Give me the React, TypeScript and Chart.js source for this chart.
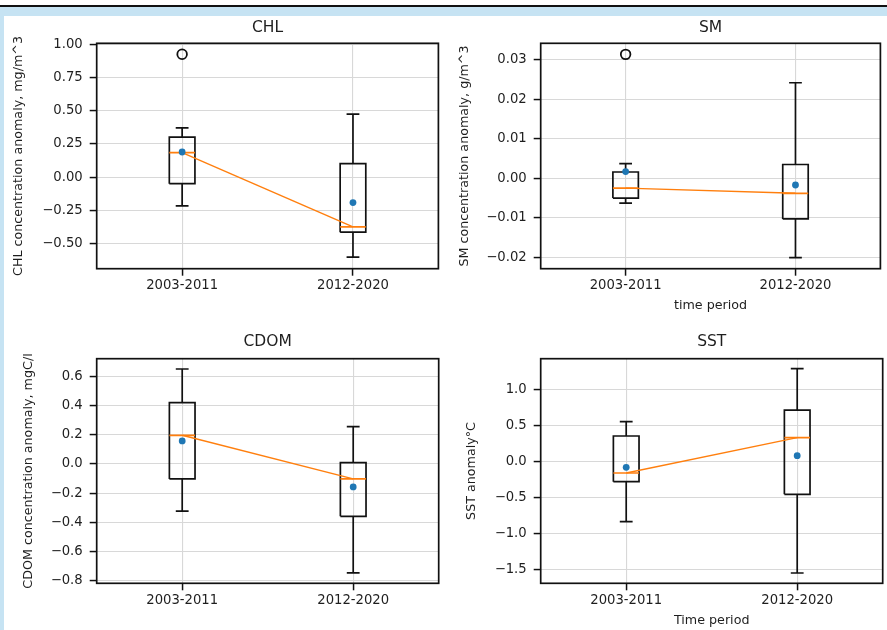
import React, { useEffect, useRef } from "react";
import { Chart, registerables } from "chart.js";

Chart.register(...registerables);

// ---------------- data ----------------
const categories = ["2003-2011", "2012-2020"];

// CHL
const chlLow = [-0.215, -0.6];
const chlQ1 = [-0.048, -0.413];
const chlMedian = [0.185, -0.373];
const chlQ3 = [0.302, 0.102];
const chlHigh = [0.372, 0.475];
const chlMean = [0.19, -0.19];
const chlOutliers = [[0.925], []];
const chlRange = [-0.6875, 1.0075];
const chlTicks = [-0.5, -0.25, 0, 0.25, 0.5, 0.75, 1.0];
const chlTickLabels = ["\u22120.50", "\u22120.25", "0.00", "0.25", "0.50", "0.75", "1.00"];

// SM
const smLow = [-0.0063, -0.0201];
const smQ1 = [-0.005, -0.0103];
const smMedian = [-0.0025, -0.0038];
const smQ3 = [0.0016, 0.0035];
const smHigh = [0.0037, 0.0242];
const smMean = [0.0017, -0.0017];
const smOutliers = [[0.0314], []];
const smRange = [-0.0229, 0.0342];
const smTicks = [-0.02, -0.01, 0, 0.01, 0.02, 0.03];
const smTickLabels = ["\u22120.02", "\u22120.01", "0.00", "0.01", "0.02", "0.03"];

// CDOM
const cdomLow = [-0.323, -0.747];
const cdomQ1 = [-0.103, -0.359];
const cdomMedian = [0.196, -0.103];
const cdomQ3 = [0.42, 0.0085];
const cdomHigh = [0.65, 0.255];
const cdomMean = [0.157, -0.158];
const cdomOutliers = [[], []];
const cdomRange = [-0.818, 0.7206];
const cdomTicks = [-0.8, -0.6, -0.4, -0.2, 0, 0.2, 0.4, 0.6];
const cdomTickLabels = ["\u22120.8", "\u22120.6", "\u22120.4", "\u22120.2", "0.0", "0.2", "0.4", "0.6"];

// SST
const sstLow = [-0.838, -1.551];
const sstQ1 = [-0.282, -0.458];
const sstMedian = [-0.162, 0.329];
const sstQ3 = [0.352, 0.713];
const sstHigh = [0.551, 1.287];
const sstMean = [-0.083, 0.079];
const sstOutliers = [[], []];
const sstRange = [-1.694, 1.426];
const sstTicks = [-1.5, -1.0, -0.5, 0, 0.5, 1.0];
const sstTickLabels = ["\u22121.5", "\u22121.0", "\u22120.5", "0.0", "0.5", "1.0"];

// ---------------- style / layout ----------------
const FONT = "DejaVu Sans";
const TEXT = "#1e1e1e";
const GRID = "#d8d8d8";
const ORANGE = "#ff7f0e";
const BLUE = "#1f77b4";
const BOX_WIDTH = 0.15;
const TICK_FONT = 13.2;
const TITLE_FONT = 15.5;
const LABEL_FONT = 12.7;
const LW = 1.7;

type Panel = {
  title: string;
  yLabel: string;
  xLabel?: string;
  low: number[];
  q1: number[];
  median: number[];
  q3: number[];
  high: number[];
  mean: number[];
  outliers: number[][];
  range: number[];
  ticks: number[];
  tickLabels: string[];
  canvas: number[]; // left, top, right, bottom (px)
  area: number[];
  titleY: number;
  yLabelX: number;
  xLabelY?: number;
};

const panels: Panel[] = [
  {
    title: "CHL", yLabel: "CHL concentration anomaly, mg/m^3",
    low: chlLow, q1: chlQ1, median: chlMedian, q3: chlQ3, high: chlHigh, mean: chlMean, outliers: chlOutliers,
    range: chlRange, ticks: chlTicks, tickLabels: chlTickLabels,
    canvas: [0, 16, 445, 322], area: [96.7, 43.3, 438.7, 268.7], titleY: 27.7, yLabelX: 18.3,
  },
  {
    title: "SM", yLabel: "SM concentration anomaly, g/m^3", xLabel: "time period",
    low: smLow, q1: smQ1, median: smMedian, q3: smQ3, high: smHigh, mean: smMean, outliers: smOutliers,
    range: smRange, ticks: smTicks, tickLabels: smTickLabels,
    canvas: [445, 16, 887, 322], area: [540.7, 43.3, 882.7, 268.7], titleY: 27.7, yLabelX: 465, xLabelY: 305.7,
  },
  {
    title: "CDOM", yLabel: "CDOM concentration anomaly, mgC/l",
    low: cdomLow, q1: cdomQ1, median: cdomMedian, q3: cdomQ3, high: cdomHigh, mean: cdomMean, outliers: cdomOutliers,
    range: cdomRange, ticks: cdomTicks, tickLabels: cdomTickLabels,
    canvas: [0, 322, 445, 630], area: [96.7, 358.7, 438.7, 583.3], titleY: 342.3, yLabelX: 28.3,
  },
  {
    title: "SST", yLabel: "SST anomaly\u00b0C", xLabel: "Time period",
    low: sstLow, q1: sstQ1, median: sstMedian, q3: sstQ3, high: sstHigh, mean: sstMean, outliers: sstOutliers,
    range: sstRange, ticks: sstTicks, tickLabels: sstTickLabels,
    canvas: [445, 322, 887, 630], area: [540.7, 358.7, 882.7, 583.3], titleY: 342.3, yLabelX: 472, xLabelY: 620.7,
  },
];

const framePlugin = {
  id: "axesFrame",
  afterDatasetsDraw(chart: any) {
    const { ctx, chartArea } = chart;
    const { left, top, right, bottom } = chartArea;
    ctx.save();
    ctx.strokeStyle = "#111";
    ctx.lineWidth = LW;
    ctx.strokeRect(left, top, right - left, bottom - top);
    ctx.restore();
  },
};

function buildDatasets(p: Panel) {
  const hw = BOX_WIDTH / 2;
  const cw = BOX_WIDTH / 4;
  const boxPts: any[] = [];
  const whiskerPts: any[] = [];
  const medianPts: any[] = [];
  p.q1.forEach((_, i) => {
    const x = i + 1;
    boxPts.push(
      { x: x - hw, y: p.q1[i] }, { x: x + hw, y: p.q1[i] }, { x: x + hw, y: p.q3[i] },
      { x: x - hw, y: p.q3[i] }, { x: x - hw, y: p.q1[i] }, { x, y: null }
    );
    whiskerPts.push(
      { x, y: p.q1[i] }, { x, y: p.low[i] }, { x, y: null },
      { x, y: p.q3[i] }, { x, y: p.high[i] }, { x, y: null },
      { x: x - cw, y: p.low[i] }, { x: x + cw, y: p.low[i] }, { x, y: null },
      { x: x - cw, y: p.high[i] }, { x: x + cw, y: p.high[i] }, { x, y: null }
    );
    medianPts.push({ x: x - hw, y: p.median[i] }, { x: x + hw, y: p.median[i] }, { x, y: null });
  });
  const trendPts = p.median.map((m, i) => ({ x: i + 1, y: m }));
  const meanPts = p.mean.map((m, i) => ({ x: i + 1, y: m }));
  const outPts: any[] = [];
  p.outliers.forEach((arr, i) => arr.forEach((v) => outPts.push({ x: i + 1, y: v })));

  const lineBase = {
    type: "line",
    showLine: true,
    pointRadius: 0,
    pointHoverRadius: 0,
    tension: 0,
    spanGaps: false,
    fill: false,
    borderCapStyle: "butt",
    borderJoinStyle: "miter",
  };
  return [
    {
      type: "line", label: "mean", data: meanPts, showLine: false,
      pointRadius: 3.4, pointBackgroundColor: BLUE, pointBorderColor: BLUE, pointBorderWidth: 0,
      order: 0,
    },
    { ...lineBase, label: "trend", data: trendPts, borderColor: ORANGE, borderWidth: 1.4, order: 1 },
    { ...lineBase, label: "median", data: medianPts, borderColor: ORANGE, borderWidth: 1.7, order: 2 },
    {
      type: "line", label: "outliers", data: outPts, showLine: false,
      pointRadius: 4.8, pointBackgroundColor: "rgba(0,0,0,0)", pointBorderColor: "#111", pointBorderWidth: 1.8,
      order: 3,
    },
    { ...lineBase, label: "whiskers", data: whiskerPts, borderColor: "#111", borderWidth: LW, order: 4 },
    { ...lineBase, label: "box", data: boxPts, borderColor: "#111", borderWidth: LW, order: 5 },
  ];
}

function PanelChart({ p }: { p: Panel }) {
  const ref = useRef<HTMLCanvasElement | null>(null);
  const [cl, ct, cr, cb] = p.canvas;
  const [al, at, ar, ab] = p.area;

  useEffect(() => {
    if (!ref.current) return;
    const titleLH = TITLE_FONT * 1.2;
    const tPadTop = p.titleY - ct - titleLH / 2;
    const tPadBottom = at - ct - tPadTop - titleLH;
    const yAxisWidth = al - cl;
    const padRight = cr - ar;
    const xAxisHeight = cb - ab;
    const labelLH = LABEL_FONT * 1.2;
    const yTitlePad = p.yLabelX - cl - labelLH / 2;
    const xTitlePad = p.xLabelY !== undefined ? cb - p.xLabelY - labelLH / 2 : 0;
    const tickFont = { family: FONT, size: TICK_FONT };

    const chart = new Chart(ref.current, {
      type: "line",
      data: { datasets: buildDatasets(p) as any },
      plugins: [framePlugin],
      options: {
        animation: false,
        responsive: true,
        maintainAspectRatio: false,
        events: [],
        layout: { padding: { left: 0, top: 0, right: padRight, bottom: 0 } },
        plugins: {
          legend: { display: false },
          tooltip: { enabled: false },
          title: {
            display: true,
            text: p.title,
            fullSize: false,
            color: TEXT,
            font: { family: FONT, size: TITLE_FONT, weight: "normal", lineHeight: 1.2 },
            padding: { top: tPadTop, bottom: tPadBottom },
          },
        },
        scales: {
          x: {
            type: "linear",
            min: 0.5,
            max: 2.5,
            afterBuildTicks: (s: any) => {
              s.ticks = categories.map((_, i) => ({ value: i + 1 }));
            },
            afterFit: (s: any) => {
              s.height = xAxisHeight;
            },
            ticks: {
              callback: (v: any) => categories[Math.round(Number(v)) - 1] ?? "",
              font: tickFont,
              color: TEXT,
              padding: 2,
              maxRotation: 0,
              autoSkip: false,
            },
            grid: { color: GRID, lineWidth: 1.1, tickColor: "#111", tickLength: 7, tickWidth: 1.5 },
            border: { display: false },
            title: p.xLabel
              ? {
                  display: true,
                  text: p.xLabel,
                  color: TEXT,
                  font: { family: FONT, size: LABEL_FONT, lineHeight: 1.2 },
                  padding: { top: 0, bottom: xTitlePad },
                }
              : { display: false },
          },
          y: {
            type: "linear",
            min: p.range[0],
            max: p.range[1],
            afterBuildTicks: (s: any) => {
              s.ticks = p.ticks.map((v) => ({ value: v }));
            },
            afterFit: (s: any) => {
              s.width = yAxisWidth;
            },
            ticks: {
              callback: (v: any) => {
                const idx = p.ticks.findIndex((t) => Math.abs(t - Number(v)) < 1e-9);
                return idx >= 0 ? p.tickLabels[idx] : "";
              },
              font: tickFont,
              color: TEXT,
              padding: 7,
              autoSkip: false,
            },
            grid: { color: GRID, lineWidth: 1.1, tickColor: "#111", tickLength: 7, tickWidth: 1.5 },
            border: { display: false },
            title: {
              display: true,
              text: p.yLabel,
              color: TEXT,
              font: { family: FONT, size: LABEL_FONT, lineHeight: 1.2 },
              padding: { top: yTitlePad, bottom: 0 },
            },
          },
        },
      } as any,
    });
    return () => chart.destroy();
  }, []);

  return (
    <div
      style={{
        position: "absolute",
        left: cl,
        top: ct,
        width: cr - cl,
        height: cb - ct,
      }}
    >
      <canvas ref={ref} />
    </div>
  );
}

export default function App() {
  return (
    <div
      style={{
        position: "absolute",
        left: 0,
        top: 0,
        width: 887,
        height: 630,
        overflow: "hidden",
        background: "#fff",
      }}
    >
      {panels.map((p) => (
        <PanelChart key={p.title} p={p} />
      ))}
      <div style={{ position: "absolute", left: 0, top: 5, width: 887, height: 2, background: "#111" }} />
      <div style={{ position: "absolute", left: 0, top: 7, width: 887, height: 9, background: "#c6e3f3" }} />
      <div style={{ position: "absolute", left: 0, top: 7, width: 3.5, height: 623, background: "#c6e3f3" }} />
    </div>
  );
}
